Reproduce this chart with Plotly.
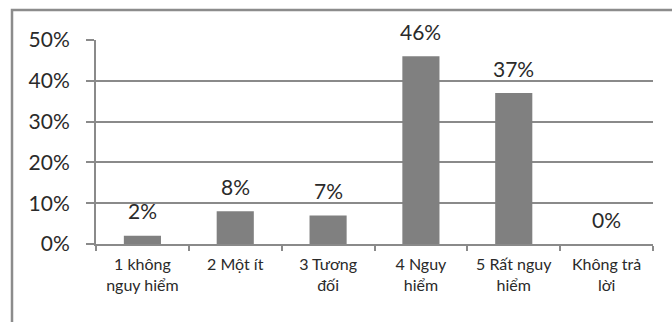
import plotly.graph_objects as go

# Survey: perceived danger level, share of respondents
categories = ["1 không<br>nguy hiểm", "2 Một ít", "3 Tương<br>đối", "4 Nguy<br>hiểm",
              "5 Rất nguy<br>hiểm", "Không trả<br>lời"]
shares = [2, 8, 7, 46, 37, 0]
y_ticks = [0, 10, 20, 30, 40, 50]
y_tick_labels = [f"{v}%" for v in y_ticks]

FONT = "Lato, 'Open Sans', sans-serif"
GRAY = "#808080"
LINE = "#8a8a8a"
TEXT = "#2a2a2a"

fig = go.Figure()
fig.add_trace(go.Bar(
    x=categories, y=shares,
    marker=dict(color=GRAY, line=dict(width=0)),
    hoverinfo="skip",
))

# value labels floating above each bar
for c, v in zip(categories, shares):
    fig.add_annotation(x=c, y=v, text=f"{v}%", showarrow=False,
                       yanchor="middle", yshift=25,
                       font=dict(family=FONT, size=21, color=TEXT))

W, H = 672, 322
ml, mr, mt, mb = 96, 19, 40, 78
pw, ph = W - ml - mr, H - mt - mb

# outer chart frame (left and top edges visible)
fig.add_shape(type="rect", xref="paper", yref="paper",
              x0=(12 - ml) / pw, x1=(W + 20 - ml) / pw,
              y0=-(mb + 20) / ph, y1=1 + (mt - 10) / ph,
              line=dict(color="#8c8c8c", width=2.5), layer="below")

fig.update_layout(
    width=W, height=H,
    margin=dict(l=ml, r=mr, t=mt, b=mb),
    paper_bgcolor="white", plot_bgcolor="white",
    bargap=0.6, showlegend=False,
    font=dict(family=FONT, color=TEXT),
    xaxis=dict(
        showline=True, linecolor=LINE, linewidth=2,
        ticks="outside", tickson="boundaries", ticklen=5,
        tickcolor=LINE, tickwidth=2, ticklabelstandoff=5,
        tickfont=dict(family=FONT, size=16, color=TEXT),
        showgrid=False,
    ),
    yaxis=dict(
        range=[0, 50], tickvals=y_ticks, ticktext=y_tick_labels,
        showline=True, linecolor=LINE, linewidth=2,
        ticks="outside", ticklen=8, tickcolor=LINE, tickwidth=2,
        ticklabelstandoff=12,
        showgrid=True, gridcolor=LINE, gridwidth=2,
        tickfont=dict(family=FONT, size=21, color=TEXT),
        zeroline=False,
    ),
)

fig.write_html("out.html")
